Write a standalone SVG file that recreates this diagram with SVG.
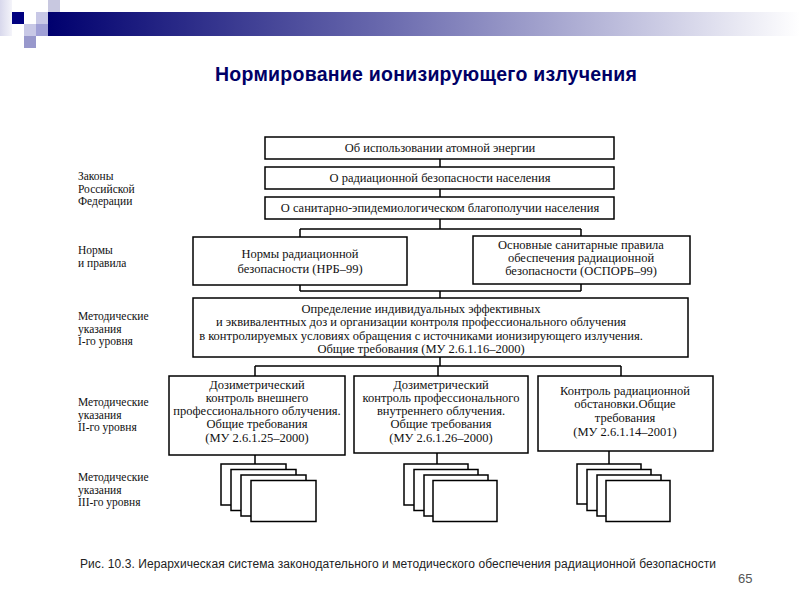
<svg xmlns="http://www.w3.org/2000/svg" width="800" height="600" viewBox="0 0 800 600">
<defs>
<linearGradient id="bar" x1="0" y1="0" x2="1" y2="0">
<stop offset="0" stop-color="#00006e"/>
<stop offset="0.45" stop-color="#6a6aae"/>
<stop offset="0.8" stop-color="#c8c8e2"/>
<stop offset="1" stop-color="#ffffff"/>
</linearGradient>
<linearGradient id="col" x1="0" y1="0" x2="1" y2="0">
<stop offset="0" stop-color="#d8d8ec"/>
<stop offset="1" stop-color="#f4f4fa"/>
</linearGradient>
<style>
.box{fill:#fff;stroke:#000;stroke-width:1.5}
.doc{fill:#fff;stroke:#000;stroke-width:1.5}
.t{font-family:"Liberation Serif","Times New Roman",serif;font-size:12.5px;fill:#111;text-anchor:middle}
.lbl{font-family:"Liberation Serif","Times New Roman",serif;font-size:11.5px;fill:#111}
.ln{stroke:#000;stroke-width:1.5;fill:none}
</style>
</defs>
<rect width="800" height="600" fill="#fff"/>
<g id="decor">
<rect x="0" y="0" width="12" height="36" fill="url(#col)"/>
<rect x="12" y="12" width="12" height="12" fill="#000080"/>
<rect x="24" y="24" width="12" height="12" fill="#c8c8e6"/>
<rect x="24" y="36" width="12" height="12" fill="#9898cc"/>
<rect x="36" y="12" width="12" height="12" fill="#c8c8e6"/>
<rect x="36" y="24" width="12" height="12" fill="#a0a0d6"/>
<rect x="48" y="0" width="12" height="12" fill="#c8c8e0"/>
<rect x="48" y="12" width="752" height="24" fill="url(#bar)"/>
</g>
<text x="426" y="81" font-family="Liberation Sans, Arial, sans-serif" font-weight="bold" font-size="19.5" fill="#000066" text-anchor="middle" textLength="422" lengthAdjust="spacing">Нормирование ионизирующего излучения</text>
<g id="labels">
<text class="lbl" x="78" y="180">Законы</text>
<text class="lbl" x="78" y="192.5">Российской</text>
<text class="lbl" x="78" y="205">Федерации</text>
<text class="lbl" x="78" y="254">Нормы</text>
<text class="lbl" x="78" y="266.5">и правила</text>
<text class="lbl" x="78" y="320">Методические</text>
<text class="lbl" x="78" y="332.5">указания</text>
<text class="lbl" x="78" y="345">I-го уровня</text>
<text class="lbl" x="78" y="406">Методические</text>
<text class="lbl" x="78" y="418.5">указания</text>
<text class="lbl" x="78" y="431">II-го уровня</text>
<text class="lbl" x="78" y="481">Методические</text>
<text class="lbl" x="78" y="493.5">указания</text>
<text class="lbl" x="78" y="506">III-го уровня</text>
</g>
<g id="connectors">
<path class="ln" d="M440 159V167M440 189V197M440 219V229M300 229H581M300 229V237M581 229V236"/>
<path class="ln" d="M300 285V291M581 284V291M300 291H581M440 291V298"/>
<path class="ln" d="M440 357V366M255 366H621M255 366V376M438 366V376M621 366V376"/>
<path class="ln" d="M255 455V464M437 453V464M609 451V464"/>
</g>
<g id="law1"><rect class="box" x="265" y="137" width="349" height="22"/><text class="t" x="440" y="152">Об использовании атомной энергии</text></g>
<g id="law2"><rect class="box" x="265" y="167" width="349" height="22"/><text class="t" x="440" y="182">О радиационной безопасности населения</text></g>
<g id="law3"><rect class="box" x="265" y="197" width="349" height="22"/><text class="t" x="440" y="212">О санитарно-эпидемиологическом благополучии населения</text></g>
<g id="nrb"><rect class="box" x="193" y="237" width="214" height="48"/>
<text class="t" x="300" y="258">Нормы радиационной</text>
<text class="t" x="300" y="273">безопасности (НРБ–99)</text></g>
<g id="osporb"><rect class="box" x="473" y="236" width="217" height="48"/>
<text class="t" x="581" y="249">Основные санитарные правила</text>
<text class="t" x="581" y="262">обеспечения радиационной</text>
<text class="t" x="581" y="275">безопасности (ОСПОРБ–99)</text></g>
<g id="mu1"><rect class="box" x="193" y="298" width="495" height="59"/>
<text class="t" x="421" y="313">Определение индивидуальных эффективных</text>
<text class="t" x="421" y="326">и эквивалентных доз и организации контроля профессионального облучения</text>
<text class="t" x="421" y="340">в контролируемых условиях обращения с источниками ионизирующего излучения.</text>
<text class="t" x="421" y="353">Общие требования (МУ 2.6.1.16–2000)</text></g>
<g id="mu-a"><rect class="box" x="169" y="376" width="176" height="79"/>
<text class="t" x="257" y="389">Дозиметрический</text>
<text class="t" x="257" y="401.5">контроль внешнего</text>
<text class="t" x="257" y="415">профессионального облучения.</text>
<text class="t" x="257" y="428">Общие требования</text>
<text class="t" x="257" y="442">(МУ 2.6.1.25–2000)</text></g>
<g id="mu-b"><rect class="box" x="354" y="376" width="174" height="77"/>
<text class="t" x="441" y="389">Дозиметрический</text>
<text class="t" x="441" y="401.5">контроль профессионального</text>
<text class="t" x="441" y="414.5">внутреннего облучения.</text>
<text class="t" x="441" y="427.5">Общие требования</text>
<text class="t" x="441" y="442">(МУ 2.6.1.26–2000)</text></g>
<g id="mu-c"><rect class="box" x="538" y="376" width="175" height="75"/>
<text class="t" x="625" y="395">Контроль радиационной</text>
<text class="t" x="625" y="408">обстановки.Общие</text>
<text class="t" x="625" y="422">требования</text>
<text class="t" x="625" y="436">(МУ 2.6.1.14–2001)</text></g>
<g id="docs-a">
<rect class="doc" x="221" y="464" width="65" height="41"/>
<rect class="doc" x="231" y="469.5" width="65" height="41"/>
<rect class="doc" x="241" y="475" width="65" height="41"/>
<rect class="doc" x="251" y="480.5" width="65" height="41"/>
</g>
<g id="docs-b">
<rect class="doc" x="404" y="464" width="64" height="41"/>
<rect class="doc" x="414" y="469.5" width="64" height="41"/>
<rect class="doc" x="424" y="475" width="64" height="41"/>
<rect class="doc" x="433" y="480.5" width="64" height="41"/>
</g>
<g id="docs-c">
<rect class="doc" x="577" y="464" width="64" height="40"/>
<rect class="doc" x="587" y="469.5" width="64" height="41"/>
<rect class="doc" x="597" y="475" width="64" height="41"/>
<rect class="doc" x="606" y="480.5" width="64" height="41"/>
</g>
<text x="80" y="568" font-family="Liberation Sans, Arial, sans-serif" font-size="12" fill="#222" textLength="636" lengthAdjust="spacing">Рис. 10.3. Иерархическая система законодательного и методического обеспечения радиационной безопасности</text>
<text x="738" y="583" font-family="Liberation Sans, Arial, sans-serif" font-size="13" fill="#555">65</text>
</svg>
